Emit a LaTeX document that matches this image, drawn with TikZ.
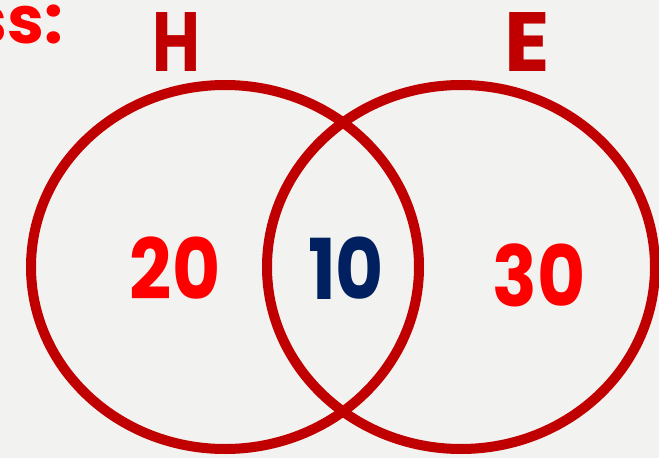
\documentclass[tikz,border=0pt]{standalone}
\usepackage{fontspec}
\newfontfamily\vennfont{Poppins}
\usetikzlibrary{shapes.geometric}
\definecolor{vbg}{HTML}{F2F2F0}
\definecolor{vdark}{HTML}{C00000}
\definecolor{vred}{HTML}{FF0000}
\definecolor{vnavy}{HTML}{002060}
\tikzset{
  setring/.style={
    ellipse, draw=vdark, line width=10pt, fill=none,
    minimum width=388pt, minimum height=364pt, inner sep=0pt
  },
  setname/.style={font=\vennfont\bfseries\fontsize{84}{84}\selectfont, text=vdark},
  count/.style={font=\vennfont\bfseries\fontsize{84}{84}\selectfont, text=#1, xscale=0.88},
  count/.default=vred
}
\begin{document}
\begin{tikzpicture}[x=1pt, y=-1pt]
  \fill[vbg] (0,0) rectangle (659,458);
  \useasboundingbox (0,0) rectangle (659,458);
  % partial heading at the corner
  \node[font=\vennfont\bfseries\fontsize{66}{66}\selectfont, text=vred, anchor=east, inner sep=0pt] (head) at (63,24) {ss:};
  % the two sets
  \node[setring] (hset) at (225,267) {};
  \node[setring] (eset) at (461,267) {};
  \node[setname, xscale=0.78] (hname) at (176,42) {H};
  \node[setname] (ename) at (527,42) {E};
  % region counts
  \node[count] (honly) at (175,268) {20};
  \node[count=vnavy] (both) at (346,268) {10};
  \node[count] (eonly) at (539,275) {30};
\end{tikzpicture}
\end{document}
